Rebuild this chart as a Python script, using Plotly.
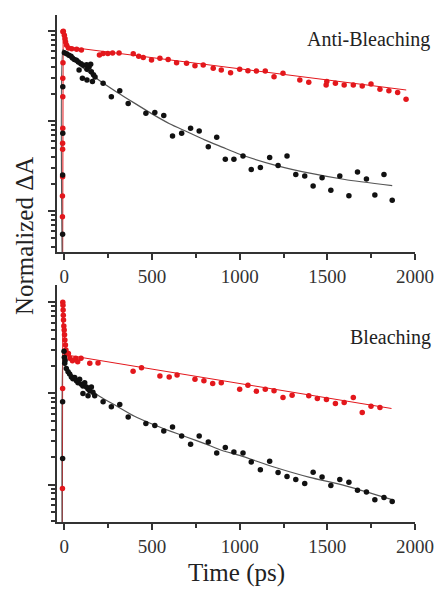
import plotly.graph_objects as go

# ---------------- Anti-Bleaching panel ----------------
ab_red_t = [-11, -11, -10, -10, -10, -9, -9, -9, -8, -8,
            -6, 0, 4, 7, 13, 23, 42, 70, 97,
            200, 221, 248, 275, 312, 393, 424, 450, 497, 545, 592, 640, 697, 745, 792, 849,
            895, 948, 1000, 1047, 1095, 1146, 1196, 1247, 1343, 1394, 1493, 1497, 1546, 1596,
            1648, 1699, 1749, 1800, 1851, 1901, 1949]
ab_red_v = [0.00865, 0.0147, 0.024, 0.0485, 0.0565, 0.083, 0.186, 0.298, 0.445, 0.982,
            0.993, 0.895, 0.822, 0.755, 0.693, 0.647, 0.637, 0.627, 0.617,
            0.543, 0.562, 0.562, 0.569, 0.569, 0.56, 0.525, 0.509, 0.476, 0.497, 0.484, 0.445, 0.438, 0.412, 0.419, 0.385,
            0.369, 0.344, 0.375, 0.362, 0.36, 0.36, 0.311, 0.339, 0.286, 0.269, 0.251, 0.274, 0.262, 0.251,
            0.251, 0.245, 0.258, 0.225, 0.217, 0.207, 0.175]

ab_blk_t = [-10, -10, -9, -9,
            0, 13, 26, 38, 46, 57, 69, 80, 84, 95, 103, 109, 127, 129, 129, 141, 150, 154, 160, 166, 175,
            221, 268, 316, 364, 465, 516, 567, 617, 669, 720, 769, 821, 869,
            918, 967, 1019, 1066, 1118, 1171, 1219, 1270, 1320, 1371, 1419, 1470, 1520, 1571,
            1623, 1672, 1723, 1771, 1823, 1870]
ab_blk_v = [0.0055, 0.0251, 0.073, 0.24,
            0.574, 0.56, 0.537, 0.524, 0.501, 0.484, 0.472, 0.453, 0.369, 0.434, 0.298, 0.416, 0.423, 0.375, 0.286, 0.398, 0.427, 0.353, 0.274, 0.327, 0.308,
            0.262, 0.186, 0.217, 0.157, 0.122, 0.124, 0.115, 0.068, 0.073, 0.083, 0.0774, 0.0519, 0.0659,
            0.0375, 0.0375, 0.0408, 0.029, 0.0305, 0.0394, 0.0321, 0.0408, 0.0254, 0.0245, 0.019, 0.0234, 0.017, 0.0245,
            0.0148, 0.0271, 0.0227, 0.0151, 0.0255, 0.0132]

ab_red_fit_t = [-10, -7, 0, 8, 15, 500, 1000, 1500, 1950]
ab_red_fit_v = [0.001, 1.0, 0.80, 0.70, 0.668, 0.506, 0.38, 0.285, 0.221]

ab_blk_fit_t = [-10, -8, 0, 50, 100, 200, 300, 400, 500, 600, 700, 800, 900, 1000, 1200, 1400, 1600, 1870]
ab_blk_fit_v = [0.001, 0.62, 0.603, 0.479, 0.398, 0.282, 0.209, 0.158, 0.120, 0.0933, 0.0759, 0.0617,
                0.0513, 0.0427, 0.0324, 0.0263, 0.0224, 0.0191]

# ---------------- Bleaching panel ----------------
bl_red_t = [-11, -10, -9, -8, -7, -6, -5, -3, -1, 1, 3, 6, 9, 12,
            23, 32, 46, 65, 76, 95, 145, 192, 392, 440, 545, 598, 643, 745, 796, 846,
            895, 1000, 1047, 1095, 1146, 1196, 1247, 1299, 1394, 1443, 1495, 1546, 1596, 1648,
            1699, 1749, 1800]
bl_red_v = [0.00904, 0.1135, 1.0, 0.93, 0.822, 0.72, 0.638, 0.55, 0.497, 0.44, 0.385, 0.34, 0.30, 0.27,
            0.275, 0.243, 0.228, 0.243, 0.223, 0.243, 0.214, 0.216, 0.175, 0.191, 0.155, 0.152, 0.159, 0.143, 0.138, 0.129,
            0.131, 0.111, 0.123, 0.106, 0.111, 0.107, 0.0904, 0.0957, 0.0942, 0.0881, 0.0859, 0.0776, 0.0796, 0.0904,
            0.0618, 0.0724, 0.0702]

bl_blk_t = [-10, -10, -2, 0, 2, 4, 11, 21, 30, 40, 49, 59, 69, 78, 87, 97, 106, 106, 116, 126, 135, 135,
            145, 154, 163, 173,
            221, 268, 316, 364, 465, 516, 567, 617, 669, 720, 769, 821, 869,
            918, 967, 1019, 1066, 1118, 1171, 1219, 1270, 1320, 1371, 1419, 1470, 1520, 1571,
            1623, 1672, 1723, 1771, 1823, 1870]
bl_blk_v = [0.0193, 0.0809, 0.29, 0.25, 0.214, 0.23, 0.188, 0.173, 0.163, 0.152, 0.145, 0.15, 0.138, 0.131, 0.143,
            0.126, 0.121, 0.1, 0.131, 0.118, 0.112, 0.0942,
            0.107, 0.118, 0.103, 0.0942,
            0.0809, 0.0713, 0.0757, 0.0553, 0.0468, 0.0445, 0.0388, 0.043, 0.0342, 0.0277, 0.0342, 0.0294, 0.0222,
            0.0255, 0.0228, 0.0222, 0.0177, 0.0146, 0.018, 0.0136, 0.0123, 0.0114, 0.0103, 0.0137, 0.0121, 0.0098, 0.0114,
            0.0106, 0.00865, 0.0083, 0.00684, 0.00724, 0.00655]

bl_red_fit_t = [-12, -9, -4, 5, 13, 500, 1000, 1500, 1866]
bl_red_fit_v = [0.001, 1.0, 0.5, 0.32, 0.264, 0.185, 0.129, 0.0891, 0.0684]

bl_blk_fit_t = [-12, -9, 0, 50, 100, 200, 300, 400, 500, 600, 700, 800, 900, 1000, 1200, 1400, 1600, 1870]
bl_blk_fit_v = [0.001, 0.25, 0.209, 0.158, 0.129, 0.0933, 0.0724, 0.0562, 0.0462, 0.0389, 0.0331, 0.0282,
                0.0237, 0.0209, 0.0155, 0.012, 0.00977, 0.00684]

x_ticks = [0, 500, 1000, 1500, 2000]
panel_names = ["Anti-Bleaching", "Bleaching"]

RED = "#e3171c"
BLK = "#111111"
SERIF = "Liberation Serif, Times New Roman, serif"

fig = go.Figure()

panels = [
    ("x", "y", ab_red_t, ab_red_v, ab_blk_t, ab_blk_v, ab_red_fit_t, ab_red_fit_v, ab_blk_fit_t, ab_blk_fit_v),
    ("x2", "y2", bl_red_t, bl_red_v, bl_blk_t, bl_blk_v, bl_red_fit_t, bl_red_fit_v, bl_blk_fit_t, bl_blk_fit_v),
]
for xa, ya, rt, rv, bt, bv, rft, rfv, bft, bfv in panels:
    fig.add_trace(go.Scatter(x=rft, y=rfv, mode="lines", xaxis=xa, yaxis=ya,
                             line=dict(color=RED, width=1), showlegend=False))
    fig.add_trace(go.Scatter(x=bft, y=bfv, mode="lines", xaxis=xa, yaxis=ya,
                             line=dict(color="#555555", width=1.2, shape="spline", smoothing=0.6),
                             showlegend=False))
    fig.add_trace(go.Scatter(x=rt, y=rv, mode="markers", xaxis=xa, yaxis=ya,
                             marker=dict(color=RED, size=5.5), showlegend=False))
    fig.add_trace(go.Scatter(x=bt, y=bv, mode="markers", xaxis=xa, yaxis=ya,
                             marker=dict(color=BLK, size=5.5), showlegend=False))

xax = dict(range=[-42, 2000], tickvals=x_ticks, ticks="outside", ticklen=6, tickwidth=1.5,
           tickcolor="#333", showline=True, linecolor="#333", linewidth=2, showgrid=False,
           zeroline=False, automargin=False, tickfont=dict(family=SERIF, size=19, color="#333"),
           minor=dict(ticks="outside", ticklen=4, tickcolor="#333", dtick=250, showgrid=False))
yax = dict(type="log", dtick=1, ticks="outside", ticklen=7, tickwidth=1.5, tickcolor="#333",
           showline=True, linecolor="#333", linewidth=2, showgrid=False, zeroline=False,
           showticklabels=False, automargin=False,
           minor=dict(ticks="outside", ticklen=4, tickcolor="#333", dtick="D1", showgrid=False))

fig.update_layout(
    width=438, height=590,
    margin=dict(l=57, r=23, t=15, b=68),
    paper_bgcolor="white", plot_bgcolor="white",
    xaxis=dict(xax, domain=[0, 1], anchor="y"),
    yaxis=dict(yax, domain=[0.5325, 1], anchor="x", range=[-2.456, 0.178]),
    xaxis2=dict(xax, domain=[0, 1], anchor="y2"),
    yaxis2=dict(yax, domain=[0, 0.4675], anchor="x2", range=[-2.41, 0.19]),
    annotations=[
        dict(text=panel_names[0], xref="paper", yref="paper", x=1.047, y=0.951,
             xanchor="right", yanchor="middle", showarrow=False,
             font=dict(family=SERIF, size=20, color="#222")),
        dict(text=panel_names[1], xref="paper", yref="paper", x=1.05, y=0.363,
             xanchor="right", yanchor="middle", showarrow=False,
             font=dict(family=SERIF, size=20, color="#222")),
        dict(text="Normalized ΔA", xref="paper", yref="paper", x=-0.092, y=0.564,
             xanchor="center", yanchor="middle", textangle=-90, showarrow=False,
             font=dict(family=SERIF, size=25, color="#222")),
        dict(text="Time (ps)", xref="paper", yref="paper", x=0.5, y=-0.1,
             xanchor="center", yanchor="middle", showarrow=False,
             font=dict(family=SERIF, size=25, color="#222")),
    ],
)

fig.write_html("out.html")
